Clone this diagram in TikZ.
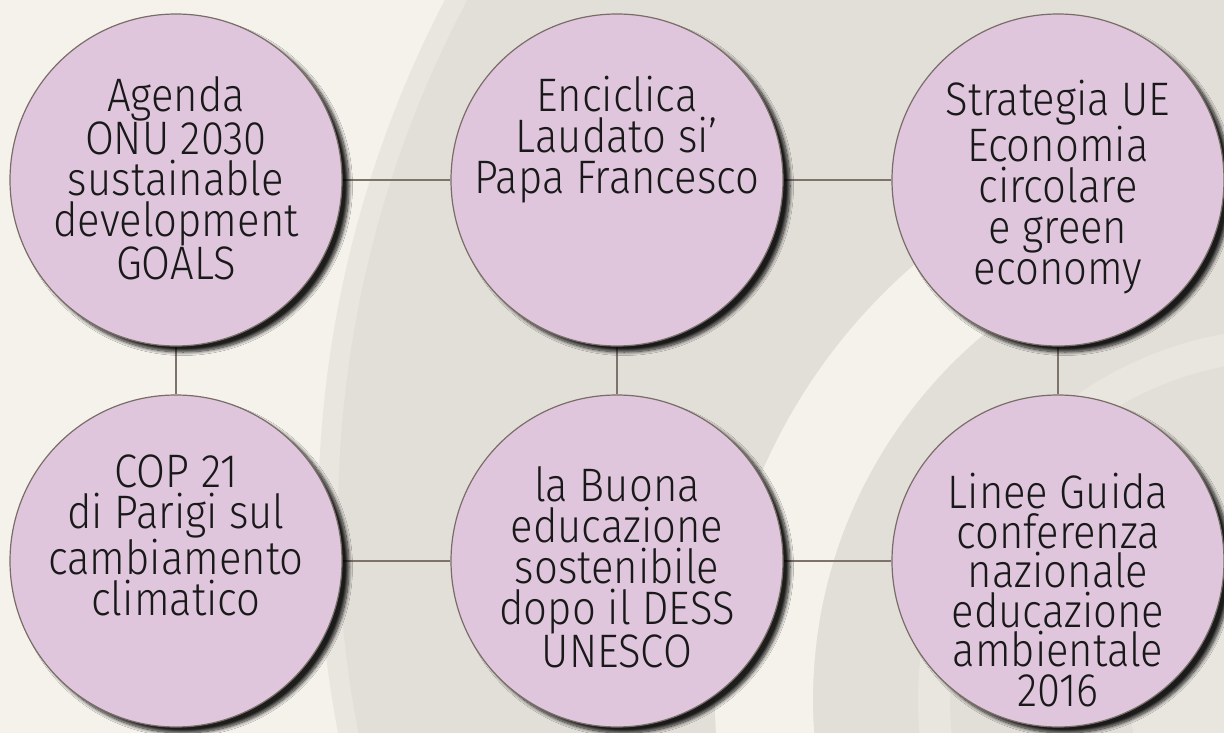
\documentclass[tikz,border=0pt]{standalone}
\usepackage{fontspec}
\setmainfont{Fira Sans}[UprightFont=* Light, FakeStretch=0.89]
\usetikzlibrary{shadows.blur}
\definecolor{bgA}{RGB}{245,242,236}
\definecolor{bgB}{RGB}{226,222,216}
\definecolor{bgBl}{RGB}{233,230,224}
\definecolor{circfill}{RGB}{223,198,221}
\definecolor{circline}{RGB}{120,110,102}
\definecolor{conn}{RGB}{125,115,107}
\pgfdeclarelayer{back}
\pgfsetlayers{back,main}
\tikzset{
  bubble/.style={circle, minimum size=332pt, inner sep=0pt, fill=circfill,
    draw=circline, line width=1.2pt,
    blur shadow={shadow xshift=7pt, shadow yshift=-6pt, shadow blur radius=3.5pt,
      shadow opacity=88, shadow blur steps=10}},
  btext/.style={align=center, font=\fontsize{47}{41}\selectfont, text=black!90,
    inner sep=0pt, anchor=north},
  link/.style={draw=conn, line width=1.5pt}
}
\begin{document}
\begin{tikzpicture}[x=1pt,y=-1pt]
\useasboundingbox (0,0) rectangle (1224,733);
% circles
\node[bubble] (c1) at (176,180) {};
\node[bubble] (c2) at (617,180) {};
\node[bubble] (c3) at (1058,180) {};
\node[bubble] (c4) at (176,561) {};
\node[bubble] (c5) at (617,561) {};
\node[bubble] (c6) at (1058,561) {};
% texts
\node[btext] (t1) at (176,76) {Agenda\\ONU 2030\\sustainable\\development\\GOALS};
\node[btext] (t2) at (617,76) {Enciclica\\Laudato si’\\Papa Francesco};
\node[btext] (t3) at (1058,80) {Strategia UE\\Economia\\circolare\\e green\\economy};
\node[btext] (t4) at (176,455) {COP 21\\di Parigi sul\\cambiamento\\climatico};
\node[btext] (t5) at (617,466) {la Buona\\educazione\\sostenibile\\dopo il DESS\\UNESCO};
\node[btext, font=\fontsize{47}{39.5}\selectfont] (t6) at (1058,473) {Linee Guida\\conferenza\\nazionale\\educazione\\ambientale\\2016};
\begin{pgfonlayer}{back}
  \fill[bgA] (0,0) rectangle (1224,733);
  \begin{scope}
    \clip (0,0) rectangle (1224,733);
    \fill[bgBl] (1446,520) circle[radius=1128pt];
    \fill[bgB] (1446,520) circle[radius=1108pt];
    \fill[bgA, even odd rule] (1290,700) circle[radius=575pt] (1290,700) circle[radius=477pt];
    \fill[bgBl, even odd rule] (1290,700) circle[radius=372pt] (1290,700) circle[radius=340pt];
    \fill[bgBl] (1290,700) circle[radius=160pt];
  \end{scope}
  \draw[link] (c1) -- (c2);
  \draw[link] (c2) -- (c3);
  \draw[link] (c4) -- (c5);
  \draw[link] (c5) -- (c6);
  \draw[link] (c1) -- (c4);
  \draw[link] (c2) -- (c5);
  \draw[link] (c3) -- (c6);
\end{pgfonlayer}
\end{tikzpicture}
\end{document}
